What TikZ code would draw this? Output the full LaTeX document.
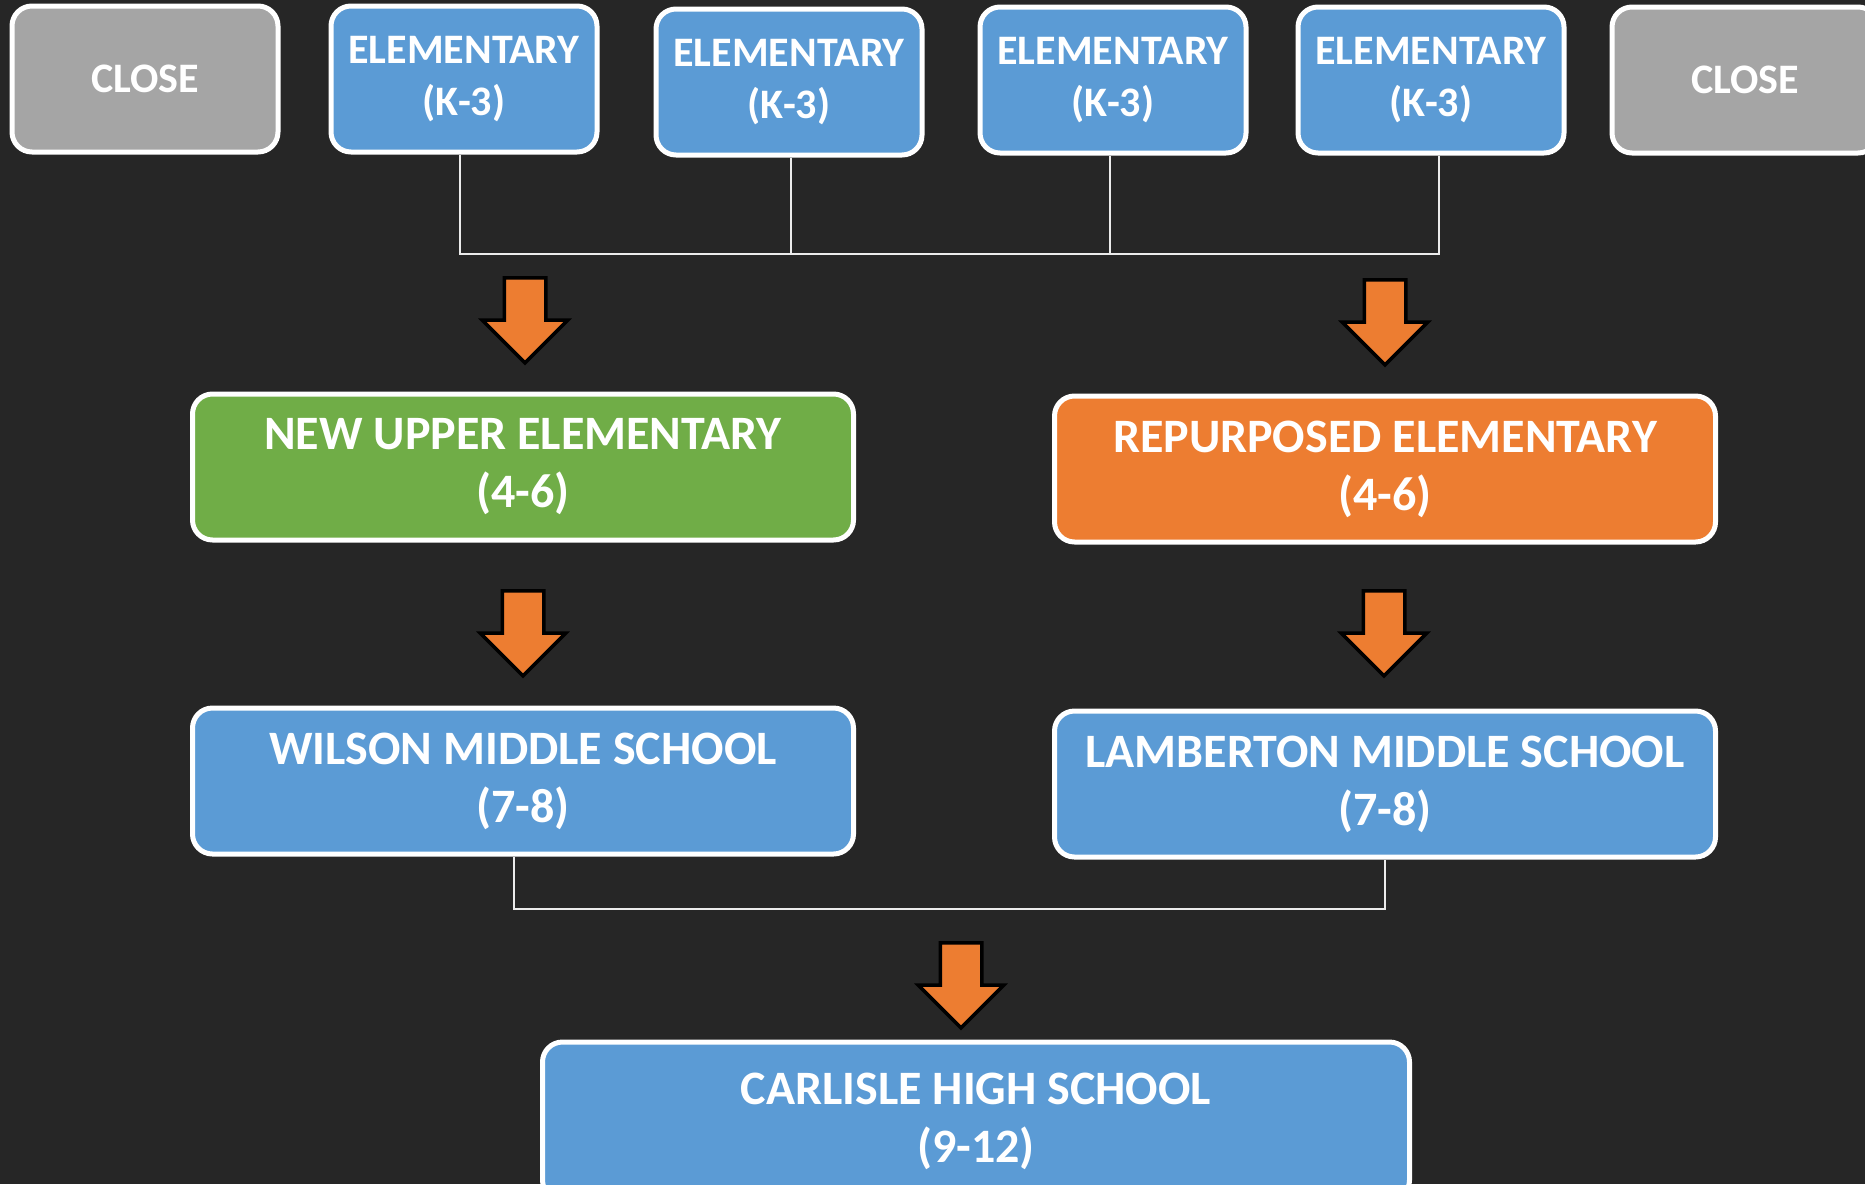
\documentclass[tikz,border=0pt]{standalone}
\usepackage{fontspec}
\setmainfont{Carlito}
\usetikzlibrary{shapes.arrows, positioning}
\definecolor{bgdark}{HTML}{262626}
\definecolor{boxblue}{HTML}{5B9BD5}
\definecolor{boxgray}{HTML}{A5A5A5}
\definecolor{boxgreen}{HTML}{70AD47}
\definecolor{boxorange}{HTML}{ED7D31}
\tikzstyle{school} = [rectangle, rounded corners=20pt, draw=white, line width=5pt, text=white, align=center, inner sep=0pt, minimum width=266pt, minimum height=146pt, font=\fontsize{42}{52}\selectfont\bfseries]
\tikzstyle{closed} = [school, fill=boxgray]
\tikzstyle{elem} = [school, fill=boxblue]
\tikzstyle{bigschool} = [school, minimum width=661pt, font=\fontsize{48}{58}\selectfont\bfseries]
\tikzstyle{downarrow} = [single arrow, draw=black, line width=3.5pt, fill=boxorange, rotate=-90, inner sep=19pt, minimum height=85pt, single arrow head extend=22pt]
\tikzstyle{feed} = [line width=2pt, draw=white!92!black]

\begin{document}
\begin{tikzpicture}[x=1pt, y=-1pt]
		\fill [bgdark] (0,0) rectangle (1865,1184);
		\useasboundingbox (0,0) rectangle (1865,1184);
		
		% top row
		\node (closeL) [closed] at (145,79) {CLOSE};
		\node (elem1) [elem] at (464,79) {ELEMENTARY\\(K-3)};
		\node (elem2) [elem] at (789,82) {ELEMENTARY\\(K-3)};
		\node (elem3) [elem] at (1113,80) {ELEMENTARY\\(K-3)};
		\node (elem4) [elem] at (1431,80) {ELEMENTARY\\(K-3)};
		\node (closeR) [closed] at (1745,80) {CLOSE};
		
		\node (upper) [bigschool, fill=boxgreen] at (523,467) {NEW UPPER ELEMENTARY\\(4-6)};
		\node (repurp) [bigschool, fill=boxorange] at (1385,469) {REPURPOSED ELEMENTARY\\(4-6)};
		\node (wilson) [bigschool, fill=boxblue] at (523,781) {WILSON MIDDLE SCHOOL\\(7-8)};
		\node (lamb) [bigschool, fill=boxblue] at (1385,784) {LAMBERTON MIDDLE SCHOOL\\(7-8)};
		\node (carlisle) [bigschool, fill=boxblue, minimum width=867pt, minimum height=158pt] at (976,1121) {CARLISLE HIGH SCHOOL\\(9-12)};
		
		\node (down1) [downarrow] at (525,310) {};
		\node (down2) [downarrow] at (1385,312) {};
		\node (down3) [downarrow] at (523,623) {};
		\node (down4) [downarrow] at (1384,623) {};
		\node (down5) [downarrow] at (961,975) {};
		
		\coordinate (topbus) at (0,254);
		\coordinate (midbus) at (0,909);
		\draw [feed] ([xshift=-4pt]elem1.south) -- ([xshift=-4pt]elem1.south |- topbus) -- ([xshift=8pt]elem4.south |- topbus) -- ([xshift=8pt]elem4.south);
		\draw [feed] ([xshift=2pt]elem2.south) -- ([xshift=2pt]elem2.south |- topbus);
		\draw [feed] ([xshift=-3pt]elem3.south) -- ([xshift=-3pt]elem3.south |- topbus);
		\draw [feed] ([xshift=-9pt]wilson.south) -- ([xshift=-9pt]wilson.south |- midbus) -- (lamb.south |- midbus) -- (lamb.south);
\end{tikzpicture}
\end{document}
